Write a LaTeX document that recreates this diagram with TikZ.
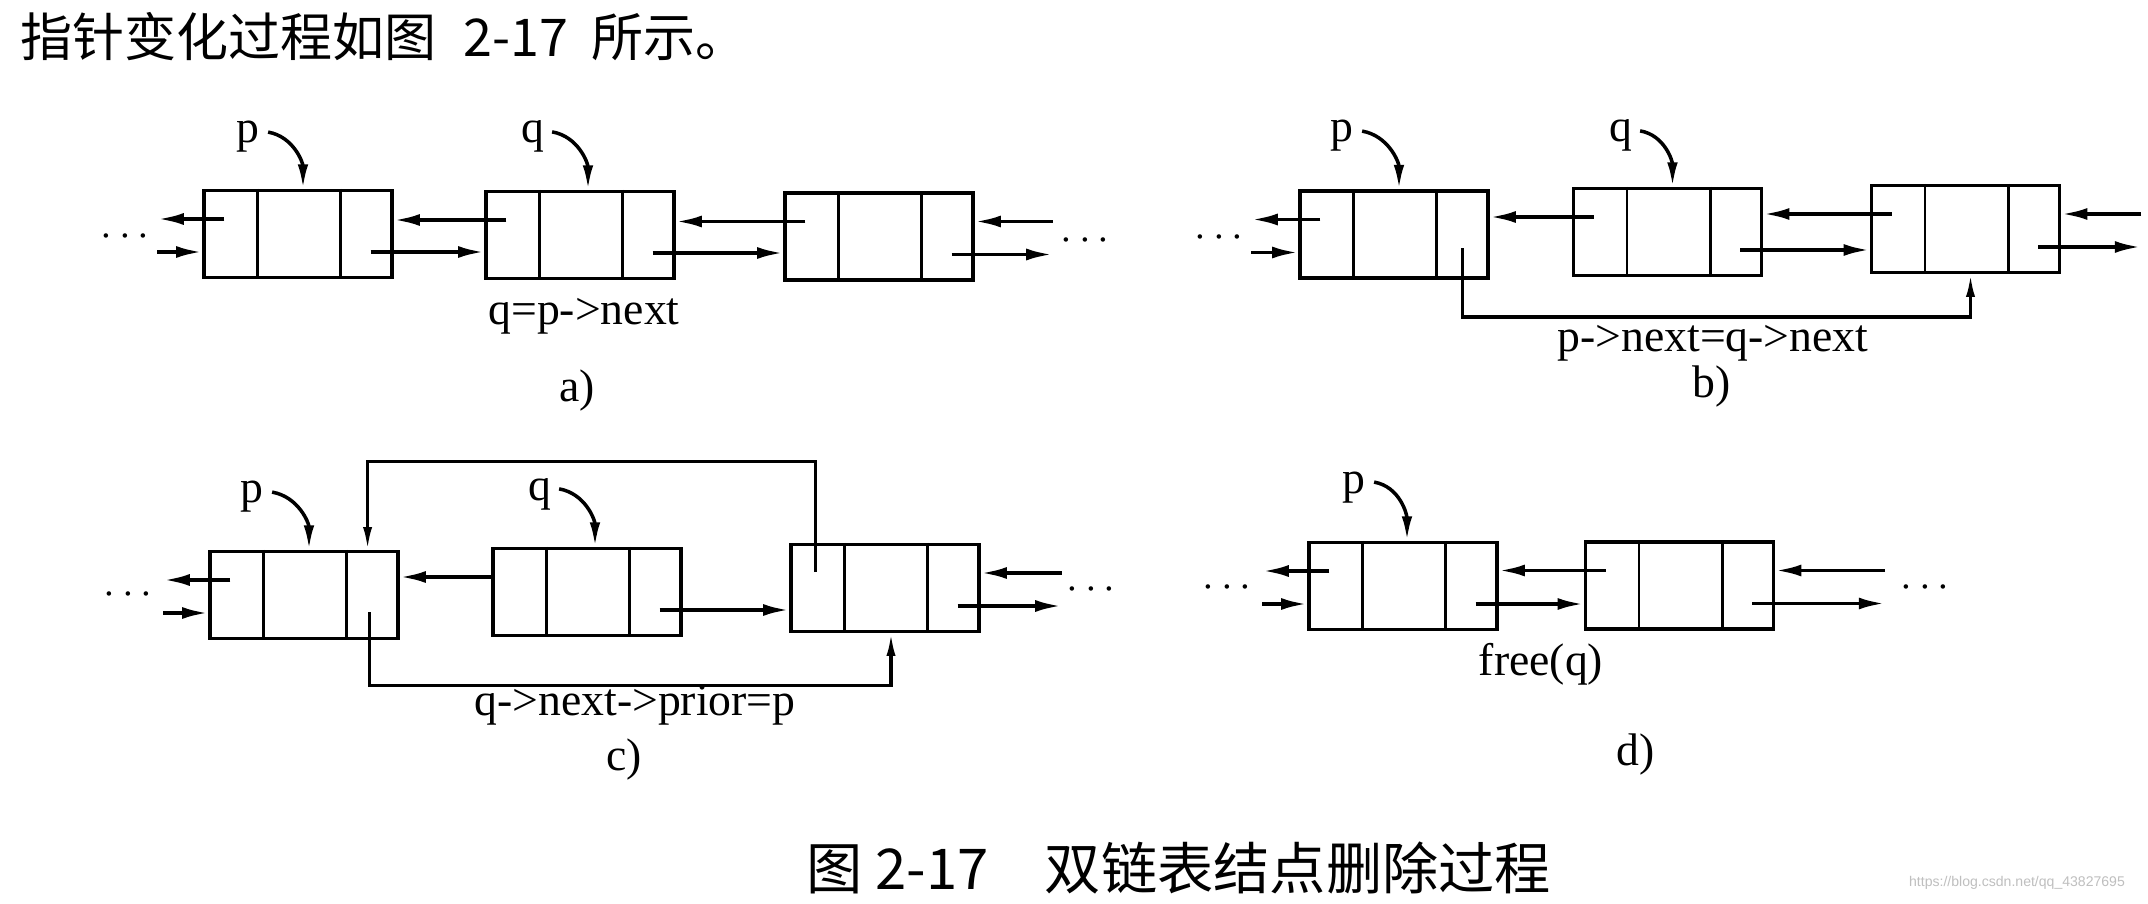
\documentclass[tikz,border=0pt]{standalone}
\usepackage{fontspec}
\setmainfont{Liberation Serif}
\newfontfamily\cjk{Noto Sans CJK SC}
\newfontfamily\wmfont{Liberation Sans}
\usetikzlibrary{arrows.meta}

\tikzset{
	cell/.style={draw=black, line width=0.9pt, minimum width=1.88cm, minimum height=0.87cm, inner sep=0pt},
	link/.style={-{Latex[length=7.5pt,width=3.4pt]}, line width=1.1pt},
	ptr/.style={-{Latex[length=7pt,width=3pt]}, line width=1pt},
	relink/.style={-{Latex[length=6.5pt,width=2.6pt]}, line width=0.9pt},
	lbl/.style={font=\fontsize{13}{15}\selectfont, inner sep=0pt, anchor=base},
	etc/.style={font=\fontsize{13}{15}\selectfont, inner sep=0pt, anchor=base},
}

\begin{document}
\begin{tikzpicture}
		\useasboundingbox[fill=white] (0,0) rectangle (21.48,-9.04);

		\node[anchor=west, inner sep=0pt, font=\cjk\fontsize{14.8}{16}\selectfont] (intro) at (0.20,-0.37) {指针变化过程如图\hspace{0.27cm}2-17\hspace{0.23cm}所示。};

		% a)
		\node[cell] (a1) at (2.98,-2.34) {};
		\node[cell] (a2) at (5.80,-2.35) {};
		\node[cell] (a3) at (8.79,-2.365) {};
		\coordinate (aL) at ([xshift=-0.45cm]a1.west);
		\coordinate (aR) at ([xshift=0.78cm]a3.east);
		\draw[link] ([xshift=0.22cm,yshift=0.15cm]a1.west) -- ([yshift=0.15cm]aL);
		\draw[link] ([yshift=-0.18cm]aL) -- ([yshift=-0.18cm]a1.west);
		\draw[link] ([xshift=0.22cm,yshift=0.15cm]a2.west) -- ([yshift=0.15cm]a2.west -| a1.east);
		\draw[link] ([xshift=-0.23cm,yshift=-0.18cm]a1.east) -- ([yshift=-0.18cm]a1.east -| a2.west);
		\draw[link] ([xshift=0.22cm,yshift=0.15cm]a3.west) -- ([yshift=0.15cm]a3.west -| a2.east);
		\draw[link] ([xshift=-0.23cm,yshift=-0.18cm]a2.east) -- ([yshift=-0.18cm]a2.east -| a3.west);
		\draw[link] ([yshift=0.15cm]aR) -- ([yshift=0.15cm]a3.east);
		\draw[link] ([xshift=-0.23cm,yshift=-0.18cm]a3.east) -- ([yshift=-0.18cm]aR);
		\node[lbl] (pa) at (2.48,-1.43) {p};
		\node[lbl] (qa) at (5.33,-1.43) {q};
		\draw[ptr] ([xshift=0.08cm,yshift=0.05cm]pa.east) to[out=-10,in=90] ([xshift=0.05cm]a1.north);
		\draw[ptr] ([xshift=0.07cm,yshift=0.05cm]qa.east) to[out=-10,in=90] ([xshift=0.08cm]a2.north);
		\node[lbl] (opa) at (5.84,-3.25) {q=p->next};
		\node[lbl] (capa) at (5.77,-4.02) {a)};
		\node[etc] (la) at (1.25,-2.47) {$\cdots$};
		\node[etc] (ra) at (10.85,-2.51) {$\cdots$};

		% b)
		\node[cell] (b1) at (13.94,-2.345) {};
		\node[cell] (b2) at (16.675,-2.32) {};
		\node[cell] (b3) at (19.655,-2.29) {};
		\coordinate (bL) at ([xshift=-0.47cm]b1.west);
		\coordinate (bR) at ([xshift=0.80cm]b3.east);
		\draw[link] ([xshift=0.22cm,yshift=0.15cm]b1.west) -- ([yshift=0.15cm]bL);
		\draw[link] ([yshift=-0.18cm]bL) -- ([yshift=-0.18cm]b1.west);
		\draw[link] ([xshift=0.22cm,yshift=0.15cm]b2.west) -- ([yshift=0.15cm]b2.west -| b1.east);
		\draw[link] ([xshift=0.22cm,yshift=0.15cm]b3.west) -- ([yshift=0.15cm]b3.west -| b2.east);
		\draw[link] ([xshift=-0.23cm,yshift=-0.18cm]b2.east) -- ([yshift=-0.18cm]b2.east -| b3.west);
		\draw[link] ([yshift=0.15cm]bR) -- ([yshift=0.15cm]b3.east);
		\draw[link] ([xshift=-0.23cm,yshift=-0.18cm]b3.east) -- ([yshift=-0.18cm]bR);
		\draw[relink] ([xshift=-0.27cm,yshift=-0.14cm]b1.east) |- ([xshift=0.05cm,yshift=-0.43cm]b3.south) -- ([xshift=0.05cm]b3.south);
		\node[lbl] (pb) at (13.42,-1.42) {p};
		\node[lbl] (qb) at (16.21,-1.42) {q};
		\draw[ptr] ([xshift=0.08cm,yshift=0.05cm]pb.east) to[out=-10,in=90] ([xshift=0.05cm]b1.north);
		\draw[ptr] ([xshift=0.07cm,yshift=0.05cm]qb.east) to[out=-10,in=90] ([xshift=0.05cm]b2.north);
		\node[lbl] (opb) at (17.13,-3.52) {p->next=q->next};
		\node[lbl] (capb) at (17.12,-3.98) {b)};
		\node[etc] (lb) at (12.19,-2.48) {$\cdots$};

		% c)
		\node[cell] (c1) at (3.04,-5.95) {};
		\node[cell] (c2) at (5.87,-5.92) {};
		\node[cell] (c3) at (8.85,-5.88) {};
		\coordinate (cL) at ([xshift=-0.45cm]c1.west);
		\coordinate (cR) at ([xshift=0.81cm]c3.east);
		\draw[link] ([xshift=0.22cm,yshift=0.15cm]c1.west) -- ([yshift=0.15cm]cL);
		\draw[link] ([yshift=-0.18cm]cL) -- ([yshift=-0.18cm]c1.west);
		\draw[link] ([yshift=0.15cm]c2.west) -- ([yshift=0.15cm]c2.west -| c1.east);
		\draw[link] ([xshift=-0.23cm,yshift=-0.18cm]c2.east) -- ([yshift=-0.18cm]c2.east -| c3.west);
		\draw[link] ([yshift=0.15cm]cR) -- ([yshift=0.15cm]c3.east);
		\draw[link] ([xshift=-0.23cm,yshift=-0.18cm]c3.east) -- ([yshift=-0.18cm]cR);
		\draw[relink] ([xshift=0.26cm,yshift=0.16cm]c3.west) |- ([xshift=-0.32cm,yshift=0.88cm]c1.north east) -- ([xshift=-0.32cm]c1.north east);
		\draw[relink] ([xshift=-0.30cm,yshift=-0.17cm]c1.east) |- ([xshift=0.06cm,yshift=-0.52cm]c3.south) -- ([xshift=0.06cm]c3.south);
		\node[lbl] (pc) at (2.52,-5.03) {p};
		\node[lbl] (qc) at (5.40,-5.00) {q};
		\draw[ptr] ([xshift=0.08cm,yshift=0.05cm]pc.east) to[out=-10,in=90] ([xshift=0.05cm]c1.north);
		\draw[ptr] ([xshift=0.07cm,yshift=0.05cm]qc.east) to[out=-10,in=90] ([xshift=0.08cm]c2.north);
		\node[lbl] (opc) at (6.35,-7.15) {q->next->prior=p};
		\node[lbl] (capc) at (6.24,-7.70) {c)};
		\node[etc] (lc) at (1.28,-6.04) {$\cdots$};
		\node[etc] (rc) at (10.91,-5.99) {$\cdots$};

		% d)
		\node[cell] (d1) at (14.03,-5.86) {};
		\node[cell] (d2) at (16.795,-5.855) {};
		\coordinate (dL) at ([xshift=-0.45cm]d1.west);
		\coordinate (dR) at ([xshift=1.10cm]d2.east);
		\draw[link] ([xshift=0.22cm,yshift=0.15cm]d1.west) -- ([yshift=0.15cm]dL);
		\draw[link] ([yshift=-0.18cm]dL) -- ([yshift=-0.18cm]d1.west);
		\draw[link] ([xshift=0.22cm,yshift=0.15cm]d2.west) -- ([yshift=0.15cm]d2.west -| d1.east);
		\draw[link] ([xshift=-0.23cm,yshift=-0.18cm]d1.east) -- ([yshift=-0.18cm]d1.east -| d2.west);
		\draw[link] ([yshift=0.15cm]dR) -- ([yshift=0.15cm]d2.east);
		\draw[link] ([xshift=-0.23cm,yshift=-0.18cm]d2.east) -- ([yshift=-0.18cm]dR);
		\node[lbl] (pd) at (13.54,-4.93) {p};
		\draw[ptr] ([xshift=0.08cm,yshift=0.05cm]pd.east) to[out=-10,in=90] ([xshift=0.04cm]d1.north);
		\node[lbl] (opd) at (15.41,-6.75) {free(q)};
		\node[lbl] (capd) at (16.36,-7.65) {d)};
		\node[etc] (ld) at (12.27,-5.97) {$\cdots$};
		\node[etc] (rd) at (19.25,-5.97) {$\cdots$};

		\foreach \n in {a1,a2,a3,b1,b2,b3,c1,c2,c3,d1,d2} {
			\draw[line width=0.8pt] ([xshift=0.55cm]\n.north west) -- ([xshift=0.55cm]\n.south west);
			\draw[line width=0.8pt] ([xshift=-0.53cm]\n.north east) -- ([xshift=-0.53cm]\n.south east);
		}

		\node[anchor=west, inner sep=0pt, font=\cjk\fontsize{16}{18}\selectfont] (caption) at (8.06,-8.68) {图 2-17\quad 双链表结点删除过程};
		\node[inner sep=0pt, text=black!25, font=\wmfont\fontsize{4}{5}\selectfont] (mark) at (20.17,-8.83) {https://blog.csdn.net/qq\_43827695};
	\end{tikzpicture}
\end{document}
